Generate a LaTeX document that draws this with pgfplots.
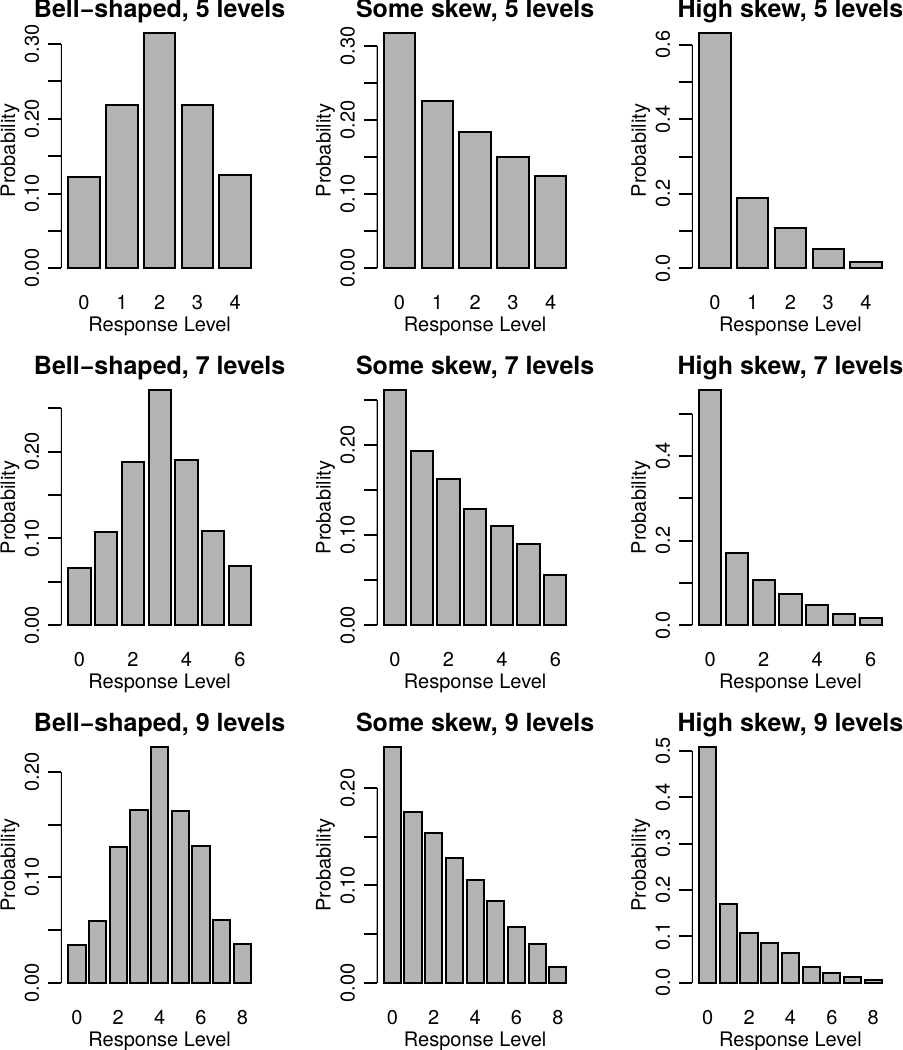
\documentclass[border=0pt]{standalone}
\usepackage{fontspec}
\setmainfont{TeX Gyre Heros}
\usepackage{pgfplots}
\pgfplotsset{compat=1.18}
\definecolor{barfill}{HTML}{B3B3B3}
\pgfplotsset{
  rpanel/.style={
    scale only axis, width=98.65pt, height=127.15pt, anchor=south west,
    axis line style={draw=none},
    font=\fontsize{10pt}{12pt}\selectfont,
    ytick pos=left, xtick pos=bottom,
    ytick align=outside, major tick length=6.3pt,
    ytick style={black, line width=1pt},
    xtick style={draw=none},
    yticklabel style={xshift=-4.7pt, rotate=90, anchor=base, inner sep=0pt},
    xticklabel style={yshift=-9.8pt, anchor=base, inner sep=0pt},
    every axis title/.style={at={(axis description cs:0.5,1)}, anchor=base, yshift=3pt,
      font=\fontsize{12.5pt}{15pt}\selectfont\bfseries},
    every axis x label/.style={at={(axis description cs:0.5,0)}, anchor=base, yshift=-27pt},
    every axis y label/.style={at={(axis description cs:0,0.5)}, xshift=-23pt, rotate=90, anchor=base},
    xlabel={Response Level}, ylabel={Probability},
    ybar, bar width=0.8333,
    cycle list={{fill=barfill, draw=black, line width=1pt}},
    every axis plot post/.append style={line width=1pt, draw=black, fill=barfill},
  }
}
\begin{document}
\begin{tikzpicture}
\useasboundingbox (0,0) rectangle (451.5pt,525pt);
\clip (0,0) rectangle (451.5pt,525pt);
% Row 1
\begin{axis}[rpanel, at={(30.5pt,386.15pt)}, title={Bell−shaped, 5 levels},
  xmin=-0.61, xmax=4.61, ymin=-0.0126, ymax=0.3276,
  xtick={0,1,2,3,4}, xticklabels={0,1,2,3,4},
  ytick={0,0.05,0.10,0.15,0.20,0.25,0.30}, yticklabels={0.00,,0.10,,0.20,,0.30}]
\addplot coordinates {(0,0.122) (1,0.218) (2,0.315) (3,0.219) (4,0.125)};
\draw[line width=1pt] (axis cs:-0.61,0) -- (axis cs:-0.61,0.30);
\end{axis}
\begin{axis}[rpanel, at={(188.25pt,386.15pt)}, title={Some skew, 5 levels},
  xmin=-0.61, xmax=4.61, ymin=-0.0127, ymax=0.3302,
  xtick={0,1,2,3,4}, xticklabels={0,1,2,3,4},
  ytick={0,0.05,0.10,0.15,0.20,0.25,0.30}, yticklabels={0.00,,0.10,,0.20,,0.30}]
\addplot coordinates {(0,0.3175) (1,0.2253) (2,0.1831) (3,0.1507) (4,0.125)};
\draw[line width=1pt] (axis cs:-0.61,0) -- (axis cs:-0.61,0.30);
\end{axis}
\begin{axis}[rpanel, at={(345.9pt,386.15pt)}, title={High skew, 5 levels},
  xmin=-0.61, xmax=4.61, ymin=-0.02528, ymax=0.65728,
  xtick={0,1,2,3,4}, xticklabels={0,1,2,3,4},
  ytick={0,0.1,0.2,0.3,0.4,0.5,0.6}, yticklabels={0.0,,0.2,,0.4,,0.6}]
\addplot coordinates {(0,0.6322) (1,0.1899) (2,0.1093) (3,0.0528) (4,0.0161)};
\draw[line width=1pt] (axis cs:-0.61,0) -- (axis cs:-0.61,0.6);
\end{axis}
% Row 2
\begin{axis}[rpanel, at={(30.5pt,207.6pt)}, title={Bell−shaped, 7 levels},
  xmin=-0.69, xmax=6.69, ymin=-0.01084, ymax=0.28174,
  xtick={0,1,2,3,4,5,6}, xticklabels={0,,2,,4,,6},
  ytick={0,0.05,0.10,0.15,0.20,0.25}, yticklabels={0.00,,0.10,,0.20,}]
\addplot coordinates {(0,0.0659) (1,0.1073) (2,0.1885) (3,0.2709) (4,0.1904) (5,0.1088) (6,0.0682)};
\draw[line width=1pt] (axis cs:-0.69,0) -- (axis cs:-0.69,0.25);
\end{axis}
\begin{axis}[rpanel, at={(188.25pt,207.6pt)}, title={Some skew, 7 levels},
  xmin=-0.69, xmax=6.69, ymin=-0.01044, ymax=0.27144,
  xtick={0,1,2,3,4,5,6}, xticklabels={0,,2,,4,,6},
  ytick={0,0.05,0.10,0.15,0.20,0.25}, yticklabels={0.00,,0.10,,0.20,}]
\addplot coordinates {(0,0.2610) (1,0.1933) (2,0.1623) (3,0.1294) (4,0.1098) (5,0.0902) (6,0.0555)};
\draw[line width=1pt] (axis cs:-0.69,0) -- (axis cs:-0.69,0.25);
\end{axis}
\begin{axis}[rpanel, at={(345.9pt,207.6pt)}, title={High skew, 7 levels},
  xmin=-0.69, xmax=6.69, ymin=-0.02224, ymax=0.57814,
  xtick={0,1,2,3,4,5,6}, xticklabels={0,,2,,4,,6},
  ytick={0,0.1,0.2,0.3,0.4,0.5}, yticklabels={0.0,,0.2,,0.4,}]
\addplot coordinates {(0,0.5559) (1,0.1709) (2,0.1079) (3,0.0740) (4,0.0488) (5,0.0260) (6,0.0181)};
\draw[line width=1pt] (axis cs:-0.69,0) -- (axis cs:-0.69,0.5);
\end{axis}
% Row 3
\begin{axis}[rpanel, at={(30.5pt,28.95pt)}, title={Bell−shaped, 9 levels},
  xmin=-0.77, xmax=8.77, ymin=-0.00894, ymax=0.23234,
  xtick={0,1,2,3,4,5,6,7,8}, xticklabels={0,,2,,4,,6,,8},
  ytick={0,0.05,0.10,0.15,0.20}, yticklabels={0.00,,0.10,,0.20}]
\addplot coordinates {(0,0.0358) (1,0.0589) (2,0.1285) (3,0.1636) (4,0.2234) (5,0.1630) (6,0.1301) (7,0.0592) (8,0.0367)};
\draw[line width=1pt] (axis cs:-0.77,0) -- (axis cs:-0.77,0.20);
\end{axis}
\begin{axis}[rpanel, at={(188.25pt,28.95pt)}, title={Some skew, 9 levels},
  xmin=-0.77, xmax=8.77, ymin=-0.00969, ymax=0.25189,
  xtick={0,1,2,3,4,5,6,7,8}, xticklabels={0,,2,,4,,6,,8},
  ytick={0,0.05,0.10,0.15,0.20}, yticklabels={0.00,,0.10,,0.20}]
\addplot coordinates {(0,0.2422) (1,0.1760) (2,0.1537) (3,0.1280) (4,0.1057) (5,0.0837) (6,0.0576) (7,0.0398) (8,0.0161)};
\draw[line width=1pt] (axis cs:-0.77,0) -- (axis cs:-0.77,0.20);
\end{axis}
\begin{axis}[rpanel, at={(345.9pt,28.95pt)}, title={High skew, 9 levels},
  xmin=-0.77, xmax=8.77, ymin=-0.02032, ymax=0.52822,
  xtick={0,1,2,3,4,5,6,7,8}, xticklabels={0,,2,,4,,6,,8},
  ytick={0,0.1,0.2,0.3,0.4,0.5}, yticklabels={0.0,0.1,0.2,0.3,0.4,0.5}]
\addplot coordinates {(0,0.5079) (1,0.1698) (2,0.1072) (3,0.0856) (4,0.0633) (5,0.0345) (6,0.0201) (7,0.0115) (8,0.0058)};
\draw[line width=1pt] (axis cs:-0.77,0) -- (axis cs:-0.77,0.5);
\end{axis}
\end{tikzpicture}
\end{document}
